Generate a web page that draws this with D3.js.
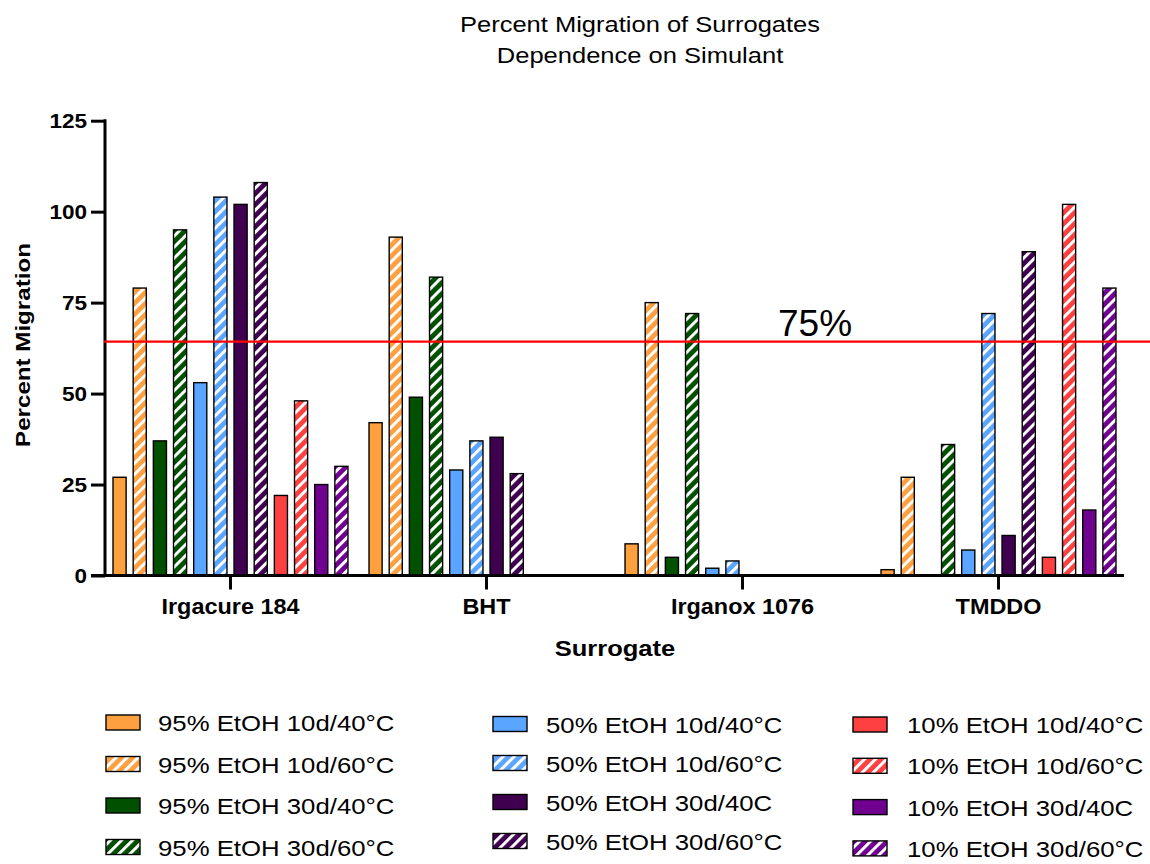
<!DOCTYPE html>
<html>
<head>
<meta charset="utf-8">
<script src="https://cdn.jsdelivr.net/npm/d3@7"></script>
<style>
  html, body { margin: 0; padding: 0; background: #fff; }
  svg { display: block; font-family: "Liberation Sans", Arial, sans-serif; }
</style>
</head>
<body>
<svg id="chart" width="1150" height="864"></svg>
<script>
// ---------------- data ----------------
const categories = ["Irgacure 184", "BHT", "Irganox 1076", "TMDDO"];
const seriesNames = [
  "95% EtOH 10d/40°C", "95% EtOH 10d/60°C", "95% EtOH 30d/40°C", "95% EtOH 30d/60°C",
  "50% EtOH 10d/40°C", "50% EtOH 10d/60°C", "50% EtOH 30d/40C", "50% EtOH 30d/60°C",
  "10% EtOH 10d/40°C", "10% EtOH 10d/60°C", "10% EtOH 30d/40C", "10% EtOH 30d/60°C"
];
// values[series][category]; null = no bar
const s95_10d40 = [27, 42, 8.7, 1.6];
const s95_10d60 = [79, 93, 75, 27];
const s95_30d40 = [37, 49, 5, null];
const s95_30d60 = [95, 82, 72, 36];
const s50_10d40 = [53, 29, 2, 7];
const s50_10d60 = [104, 37, 4, 72];
const s50_30d40 = [102, 38, null, 11];
const s50_30d60 = [108, 28, null, 89];
const s10_10d40 = [22, null, null, 5];
const s10_10d60 = [48, null, null, 102];
const s10_30d40 = [25, null, null, 18];
const s10_30d60 = [30, null, null, 79];
const seriesValues = [s95_10d40, s95_10d60, s95_30d40, s95_30d60,
                      s50_10d40, s50_10d60, s50_30d40, s50_30d60,
                      s10_10d40, s10_10d60, s10_30d40, s10_30d60];
const yTicks = [0, 25, 50, 75, 100, 125];
const thresholdValue = 64.3;
const thresholdLabel = "75%";
const titleLines = ["Percent Migration of Surrogates", "Dependence on Simulant"];
const yTitle = "Percent Migration";
const xTitle = "Surrogate";

// ---------------- styles ----------------
const seriesColors = ["#FFA040", "#FFA040", "#005000", "#005000",
                      "#5AA5FF", "#5AA5FF", "#400050", "#400050",
                      "#FF4040", "#FF4040", "#700090", "#700090"];
const seriesHatched = [false, true, false, true, false, true, false, true, false, true, false, true];

const svg = d3.select("#chart");
const defs = svg.append("defs");
seriesColors.forEach((c, i) => {
  if (!seriesHatched[i]) return;
  const p = defs.append("pattern")
    .attr("id", "hatch" + i)
    .attr("patternUnits", "userSpaceOnUse")
    .attr("width", 7.8).attr("height", 7.8)
    .attr("patternTransform", "rotate(45)");
  p.append("rect").attr("width", 7.8).attr("height", 7.8).attr("fill", c);
  p.append("rect").attr("x", 0).attr("width", 3).attr("height", 7.8).attr("fill", "#fff");
});
const fillOf = i => seriesHatched[i] ? `url(#hatch${i})` : seriesColors[i];

// ---------------- scales ----------------
const y = d3.scaleLinear().domain([0, 125]).range([575.5, 120.7]);
const x0 = d3.scaleBand().domain(categories).range([102.5, 1126.5])
  .paddingInner(0.0547).paddingOuter(0.0273);
const x1 = d3.scaleBand().domain(d3.range(seriesNames.length)).range([0, x0.bandwidth()])
  .paddingInner(0.35).paddingOuter(0.175);

function stretch(sel, sx) {
  sel.each(function () {
    const t = d3.select(this);
    const xx = +t.attr("x") || 0;
    const yy = +t.attr("y") || 0;
    t.attr("x", 0).attr("y", 0)
     .attr("transform", `translate(${xx},${yy}) scale(${sx},1)`);
  });
}

// ---------------- bars ----------------
const flat = [];
seriesValues.forEach((vals, si) => vals.forEach((v, ci) => {
  if (v != null) flat.push({ si, cat: categories[ci], v });
}));
svg.append("g").selectAll("rect").data(flat).join("rect")
  .attr("x", d => x0(d.cat) + x1(d.si))
  .attr("width", x1.bandwidth())
  .attr("y", d => y(d.v))
  .attr("height", d => y(0) - y(d.v))
  .attr("fill", d => fillOf(d.si))
  .attr("stroke", "#000").attr("stroke-width", 1.4);

// ---------------- axes ----------------
const yAxis = svg.append("g").attr("transform", "translate(105,0)")
  .call(d3.axisLeft(y).tickValues(yTicks).tickSize(14).tickPadding(4).tickFormat(d3.format("d")));
yAxis.select(".domain").remove();
yAxis.selectAll(".tick line").attr("stroke", "#000").attr("stroke-width", 3);
yAxis.selectAll(".tick text").attr("font-size", 20.5).attr("font-weight", "bold")
  .attr("fill", "#000").attr("font-family", "Liberation Sans, Arial, sans-serif");
stretch(yAxis.selectAll(".tick text"), 1.1);
svg.append("line").attr("x1", 105).attr("x2", 105).attr("y1", y(125) - 1.5).attr("y2", y(0) + 1.5)
  .attr("stroke", "#000").attr("stroke-width", 3);

const xAxis = svg.append("g").attr("transform", `translate(0,${y(0)})`)
  .call(d3.axisBottom(x0).tickSize(14).tickPadding(10));
xAxis.select(".domain").remove();
xAxis.selectAll(".tick line").attr("stroke", "#000").attr("stroke-width", 3);
xAxis.selectAll(".tick text").attr("font-size", 22).attr("font-weight", "bold")
  .attr("fill", "#000").attr("font-family", "Liberation Sans, Arial, sans-serif")
  .attr("dy", 0).attr("y", 38.5);
stretch(xAxis.selectAll(".tick text"), 1.065);
svg.append("line").attr("x1", 91).attr("x2", 1124).attr("y1", y(0)).attr("y2", y(0))
  .attr("stroke", "#000").attr("stroke-width", 3);

// ---------------- threshold ----------------
svg.append("line").attr("x1", 104).attr("x2", 1150)
  .attr("y1", y(thresholdValue)).attr("y2", y(thresholdValue))
  .attr("stroke", "#FF0000").attr("stroke-width", 2.2);
svg.append("text").attr("x", 778).attr("y", 336).attr("font-size", 37)
  .attr("fill", "#000").text(thresholdLabel);

// ---------------- titles ----------------
const tt = svg.append("g");
titleLines.forEach((t, i) => {
  tt.append("text").attr("x", 640).attr("y", 32 + i * 31)
    .attr("text-anchor", "middle").attr("font-size", 22).attr("fill", "#000").text(t);
});
stretch(tt.selectAll("text"), 1.16);

svg.append("text").attr("font-size", 21).attr("font-weight", "bold")
  .attr("text-anchor", "middle").attr("fill", "#000")
  .attr("transform", "translate(30,345) rotate(-90) scale(1.15,1)").text(yTitle);

const xt = svg.append("text").attr("x", 615).attr("y", 656).attr("font-size", 22)
  .attr("font-weight", "bold").attr("text-anchor", "middle").attr("fill", "#000").text(xTitle);
stretch(xt, 1.16);

// ---------------- legend ----------------
const legCols = [
  { sx: 106, tx: 158, y0: 722.5, step: 41.5 },
  { sx: 493, tx: 546, y0: 724, step: 39 },
  { sx: 853, tx: 907, y0: 724.5, step: 41.3 }
];
const leg = svg.append("g");
seriesNames.forEach((name, i) => {
  const col = legCols[Math.floor(i / 4)];
  const r = i % 4;
  const cy = col.y0 + r * col.step;
  leg.append("rect").attr("x", col.sx).attr("y", cy - 7.5).attr("width", 34).attr("height", 15)
    .attr("fill", fillOf(i)).attr("stroke", "#000").attr("stroke-width", 1.4);
  leg.append("text").attr("class", "lt").attr("x", col.tx).attr("y", cy + 8.5)
    .attr("font-size", 23).attr("fill", "#000").text(name);
});
stretch(leg.selectAll("text.lt"), 1.12);
</script>
</body>
</html>
